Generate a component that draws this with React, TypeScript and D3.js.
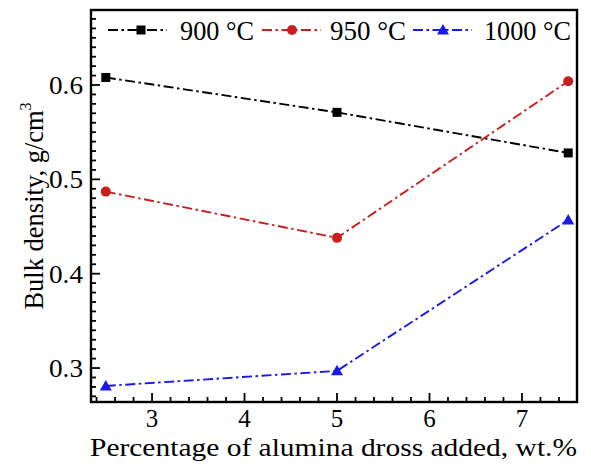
import React, { useRef, useEffect } from 'react'
import * as d3 from 'd3'

const xValues = [2.5, 5, 7.5]
const series900 = [0.608, 0.571, 0.528]
const series950 = [0.487, 0.438, 0.604]
const series1000 = [0.281, 0.297, 0.457]
const seriesNames = ['900 °C', '950 °C', '1000 °C']
const seriesColors = ['#000000', '#c81e1e', '#1a1ae6']
const seriesMarkers = ['square', 'circle', 'triangle']
const xTickValues = [3, 4, 5, 6, 7]
const yTickValues = [0.3, 0.4, 0.5, 0.6]

const W = 591
const H = 467
const FONT = '"Liberation Serif", "Times New Roman", serif'

const App = () => {
  const svgRef = useRef<SVGSVGElement>(null)

  useEffect(() => {
    const svg = d3.select(svgRef.current)
    svg.selectAll('*').remove()

    const margin = { top: 10, right: 14, bottom: 65, left: 91 }
    const x = d3.scaleLinear().domain([2.34, 7.595]).range([margin.left, W - margin.right])
    const y = d3.scaleLinear().domain([0.264, 0.6795]).range([H - margin.bottom, margin.top])
    const [x0, x1] = x.range()
    const [y0, y1] = y.range()

    const dash = '10 3.5 2.5 3.5'
    const data = [series900, series950, series1000]

    const drawMarker = (g, kind, cx, cy, color) => {
      if (kind === 'square') {
        g.append('rect').attr('x', cx - 4.5).attr('y', cy - 4.5).attr('width', 9).attr('height', 9).attr('fill', color)
      } else if (kind === 'circle') {
        g.append('circle').attr('cx', cx).attr('cy', cy).attr('r', 5).attr('fill', color)
      } else {
        g.append('path')
          .attr('d', `M${cx},${cy - 6}L${cx + 6},${cy + 4.5}L${cx - 6},${cy + 4.5}Z`)
          .attr('fill', color)
      }
    }

    // Series lines and markers
    data.forEach((vals, i) => {
      const pts = vals.map((v, j) => [x(xValues[j]), y(v)] as [number, number])
      svg.append('path')
        .attr('d', d3.line()(pts))
        .attr('fill', 'none')
        .attr('stroke', seriesColors[i])
        .attr('stroke-width', 1.9)
        .attr('stroke-dasharray', dash)
      const g = svg.append('g')
      pts.forEach(p => drawMarker(g, seriesMarkers[i], p[0], p[1], seriesColors[i]))
    })

    // Ticks (inward)
    const ticks = svg.append('g').attr('stroke', '#000').attr('stroke-width', 1.8)
    d3.range(2.4, 7.6, 0.2).forEach(t => {
      const major = Math.abs(t - Math.round(t)) < 1e-6
      ticks.append('line').attr('x1', x(t)).attr('x2', x(t)).attr('y1', y0).attr('y2', y0 - (major ? 9 : 5))
    })
    d3.range(0.27, 0.68, 0.01).forEach(t => {
      const major = Math.abs(t * 10 - Math.round(t * 10)) < 1e-6
      ticks.append('line').attr('x1', x0).attr('x2', x0 + (major ? 9 : 5)).attr('y1', y(t)).attr('y2', y(t))
    })

    // Frame
    svg.append('rect')
      .attr('x', x0).attr('y', y1).attr('width', x1 - x0).attr('height', y0 - y1)
      .attr('fill', 'none').attr('stroke', '#000').attr('stroke-width', 2.4)

    // Tick labels
    const labels = svg.append('g').attr('font-family', FONT).attr('font-size', 26).attr('fill', '#000')
    xTickValues.forEach(t => {
      labels.append('text').attr('x', x(t)).attr('y', 427).attr('font-size', 25)
        .attr('text-anchor', 'middle').text(d3.format('d')(t))
    })
    yTickValues.forEach(t => {
      labels.append('text').attr('x', 83).attr('y', y(t) + 9).attr('text-anchor', 'end')
        .attr('textLength', 34).attr('lengthAdjust', 'spacingAndGlyphs').text(d3.format('.1f')(t))
    })

    // Axis titles
    svg.append('text')
      .attr('x', 90).attr('y', 456)
      .attr('font-family', FONT).attr('font-size', 26).attr('fill', '#000')
      .attr('textLength', 487).attr('lengthAdjust', 'spacingAndGlyphs')
      .text('Percentage of alumina dross added, wt.%')

    const yt = svg.append('text')
      .attr('transform', 'translate(43,206) rotate(-90)')
      .attr('text-anchor', 'middle')
      .attr('font-family', FONT).attr('font-size', 26.5).attr('fill', '#000')
    yt.append('tspan').text('Bulk density, g/cm')
    yt.append('tspan').attr('font-size', 16).attr('dy', -12).text('3')

    // Legend
    const legendItems = [
      { lx: 108, mx: 141, tx: 180, tw: 74 },
      { lx: 262, mx: 292, tx: 330, tw: 76 },
      { lx: 413, mx: 443, tx: 484, tw: 87 },
    ]
    const ly = 30
    legendItems.forEach((it, i) => {
      svg.append('line')
        .attr('x1', it.lx).attr('x2', it.lx + 59).attr('y1', ly).attr('y2', ly)
        .attr('stroke', seriesColors[i]).attr('stroke-width', 1.9)
        .attr('stroke-dasharray', dash)
      drawMarker(svg.append('g'), seriesMarkers[i], it.mx, ly, seriesColors[i])
      svg.append('text')
        .attr('x', it.tx).attr('y', ly + 10)
        .attr('font-family', FONT).attr('font-size', 27).attr('fill', '#000')
        .attr('textLength', it.tw).attr('lengthAdjust', 'spacingAndGlyphs')
        .text(seriesNames[i])
    })
  }, [])

  return (
    <svg
      ref={svgRef}
      width={W}
      height={H}
      style={{ position: 'absolute', left: 0, top: 0, background: '#fff' }}
    />
  )
}

export default App
